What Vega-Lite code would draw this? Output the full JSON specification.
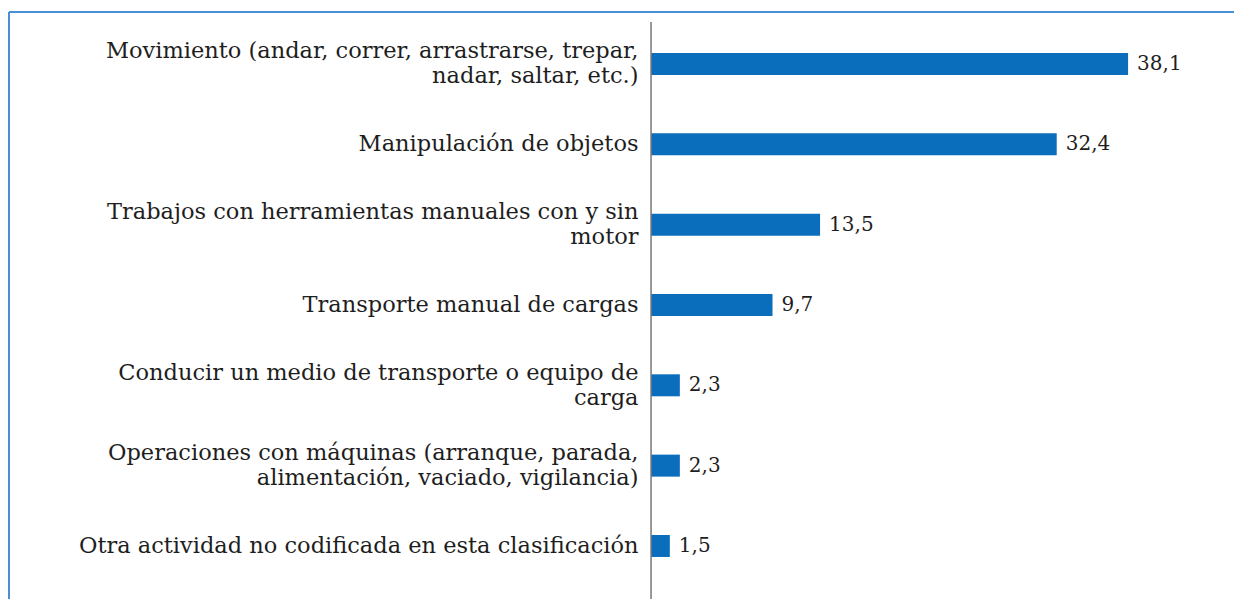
{
  "$schema": "https://vega.github.io/schema/vega-lite/v6.json",
  "width": 1225,
  "height": 587,
  "autosize": {"type": "none"},
  "padding": {"left": 9, "top": 12, "right": 0, "bottom": 0},
  "background": "white",
  "config": {
    "view": {"stroke": null},
    "font": "DejaVu Serif",
    "locale": {"number": {"decimal": ",", "thousands": ".", "grouping": [3], "currency": ["", " €"]}}
  },
  "data": {
    "values": [
      {"actividad": "Movimiento (andar, correr, arrastrarse, trepar,|nadar, saltar, etc.)", "pct": 38.1},
      {"actividad": "Manipulación de objetos", "pct": 32.4},
      {"actividad": "Trabajos con herramientas manuales con y sin|motor", "pct": 13.5},
      {"actividad": "Transporte manual de cargas", "pct": 9.7},
      {"actividad": "Conducir un medio de transporte o equipo de|carga", "pct": 2.3},
      {"actividad": "Operaciones con máquinas (arranque, parada,|alimentación, vaciado, vigilancia)", "pct": 2.3},
      {"actividad": "Otra actividad no codificada en esta clasificación", "pct": 1.5}
    ]
  },
  "layer": [
    {
      "encoding": {
        "y": {
          "field": "actividad", "type": "nominal", "sort": null,
          "scale": {"paddingInner": 0, "paddingOuter": 0.1537, "align": 0.479},
          "axis": {
            "title": null, "orient": "left", "offset": -642, "domain": false, "ticks": false,
            "labelPadding": 13, "labelFontSize": 22.5, "labelColor": "#1e1e1e", "labelFont": "DejaVu Serif",
            "labelLimit": 0, "labelLineHeight": 25, "labelExpr": "split(datum.label, '|')",
            "labelAlign": "right", "labelBaseline": "middle",
            "labelOffset": {"condition": {"test": "indexof(datum.value, '|') >= 0", "value": -12.5}, "value": 0}
          }
        },
        "x": {"field": "pct", "type": "quantitative", "scale": {"domain": [-51.28, 46.56], "nice": false}, "axis": null}
      },
      "layer": [
        {"mark": {"type": "bar", "height": 22, "color": "#0a6ebd"}},
        {
          "mark": {"type": "text", "align": "left", "baseline": "middle", "dx": 9, "fontSize": 20, "color": "#1e1e1e", "font": "DejaVu Serif"},
          "encoding": {"text": {"field": "pct", "type": "quantitative", "format": ".1f"}}
        }
      ]
    },
    {
      "data": {"values": [{}]},
      "layer": [
        {
          "mark": {"type": "rule", "color": "#777777", "strokeWidth": 1.5},
          "encoding": {
            "x": {"datum": 0, "type": "quantitative"},
            "y": {"datum": 1.7, "type": "quantitative", "scale": {"domain": [0, 100], "reverse": true, "nice": false}, "axis": null},
            "y2": {"datum": 100}
          }
        },
        {
          "mark": {"type": "rule", "color": "#4a8fd6", "strokeWidth": 2},
          "encoding": {
            "x": {"datum": -51.28, "type": "quantitative"},
            "y": {"datum": 0, "type": "quantitative"},
            "y2": {"datum": 100}
          }
        },
        {
          "mark": {"type": "rule", "color": "#4a8fd6", "strokeWidth": 2},
          "encoding": {
            "y": {"datum": 0, "type": "quantitative"},
            "x": {"datum": -51.28, "type": "quantitative"},
            "x2": {"datum": 46.56}
          }
        }
      ]
    }
  ],
  "resolve": {"scale": {"y": "independent"}}
}
